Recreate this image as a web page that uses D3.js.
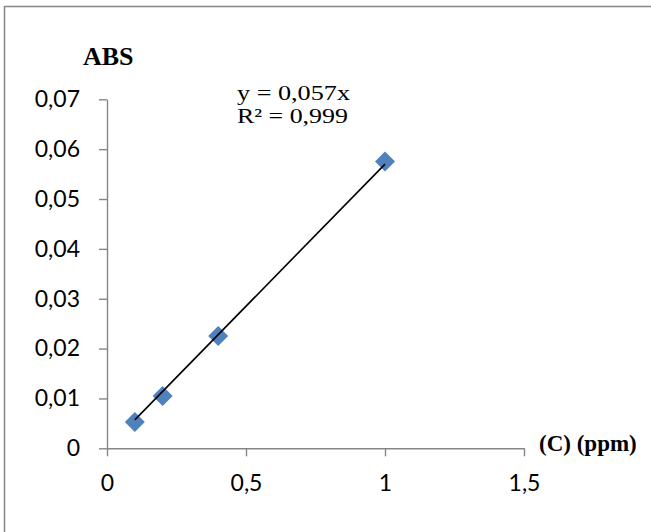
<!DOCTYPE html>
<html>
<head>
<meta charset="utf-8">
<script src="https://cdn.jsdelivr.net/npm/d3@7"></script>
<style>
  body { margin: 0; background: #ffffff; }
  .tick text { font-family: Lato, "Noto Sans", sans-serif; font-size: 23px; fill: #000; }
</style>
</head>
<body>
<div id="chartContainer"></div>
<script>
const w = 651;
const h = 532;

// data
const concentration = [0.1, 0.2, 0.4, 1.0];
const absorbance = [0.0053, 0.0105, 0.0225, 0.0575];
const slope = 0.057;
const xTicks = [0, 0.5, 1, 1.5];
const yTicks = [0, 0.01, 0.02, 0.03, 0.04, 0.05, 0.06, 0.07];
const eqLines = ["y = 0,057x", "R² = 0,999"];

let svg = d3.select("div#chartContainer").append("svg")
    .attr("width", w).attr("height", h)
    .style("background-color", "#ffffff");

// outer frame (right/bottom fall outside the picture)
svg.append("rect")
    .attr("x", 4.5).attr("y", 6.5)
    .attr("width", 700).attr("height", 600)
    .attr("fill", "none")
    .attr("stroke", "#868686")
    .attr("stroke-width", 1.5);

let x = d3.scaleLinear().domain([0, 1.5]).range([107, 524]);
let y = d3.scaleLinear().domain([0, 0.07]).range([448.3, 99.3]);

const locale = d3.formatLocale({decimal: ",", thousands: " ", grouping: [3], currency: ["", ""]});
const fmt = locale.format("~g");

const styleAxis = (g) => {
    g.selectAll(".domain").attr("stroke", "#868686").attr("stroke-width", 1.4);
    g.selectAll(".tick line").attr("stroke", "#868686").attr("stroke-width", 1.4);
    g.selectAll(".tick text").attr("fill", "#000");
}

svg.append("g")
    .attr("transform", "translate(" + x(0) + ",0)")
    .call(d3.axisLeft(y).tickValues(yTicks).tickFormat(fmt).tickSize(8).tickSizeOuter(0).tickPadding(19))
    .call(styleAxis);

svg.append("g")
    .attr("transform", "translate(0," + y(0) + ")")
    .call(d3.axisBottom(x).tickValues(xTicks).tickFormat(fmt).tickSize(8).tickSizeOuter(0).tickPadding(18))
    .call(styleAxis);

// markers
let points = concentration.map((c, i) => [c, absorbance[i]]);
svg.selectAll("path.marker")
    .data(points)
    .join("path")
    .attr("class", "marker")
    .attr("d", d3.symbol().type(d3.symbolSquare).size(200))
    .attr("transform", d => "translate(" + x(d[0]) + "," + y(d[1]) + ") rotate(45)")
    .attr("fill", "#4f81bd");

// linear trendline through origin over the data range
let xExtent = d3.extent(concentration);
svg.append("path")
    .datum(xExtent.map(c => [c, slope * c]))
    .attr("d", d3.line().x(d => x(d[0])).y(d => y(d[1])))
    .attr("stroke", "#000")
    .attr("stroke-width", 1.6)
    .attr("fill", "none");

// equation label
svg.selectAll("text.eq")
    .data(eqLines)
    .join("text")
    .attr("class", "eq")
    .attr("x", 237)
    .attr("y", (d, i) => 99.5 + i * 23.5)
    .attr("textLength", (d, i) => i === 0 ? 113 : 111)
    .attr("lengthAdjust", "spacingAndGlyphs")
    .style("font-family", "'Liberation Serif', 'Times New Roman', serif")
    .style("font-size", "21px")
    .text(d => d);

// axis titles
svg.append("text")
    .attr("x", 83).attr("y", 65)
    .style("font-family", "'Liberation Serif', 'Times New Roman', serif")
    .style("font-size", "26px")
    .style("font-weight", "bold")
    .text("ABS");

svg.append("text")
    .attr("x", 539).attr("y", 451)
    .style("font-family", "'Liberation Serif', 'Times New Roman', serif")
    .style("font-size", "23px")
    .style("font-weight", "bold")
    .text("(C) (ppm)");
</script>
</body>
</html>
